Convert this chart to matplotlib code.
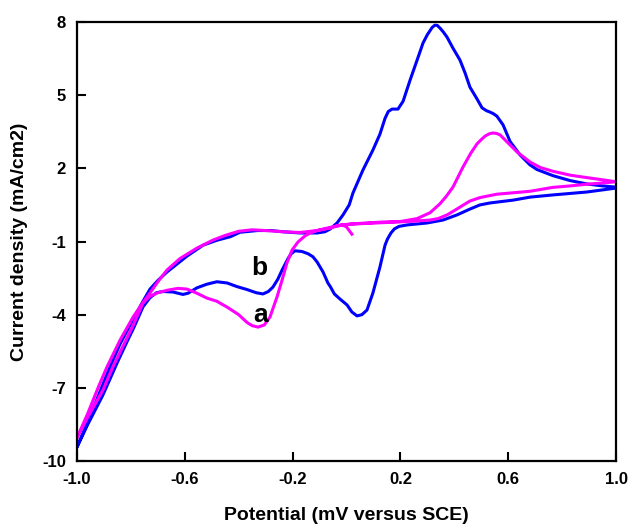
import matplotlib
matplotlib.use("Agg")
import matplotlib.pyplot as plt

plt.rcParams['font.family'] = ['Liberation Sans', 'DejaVu Sans']
plt.rcParams['font.weight'] = 'bold'
plt.rcParams['axes.unicode_minus'] = False

# curve b (blue): cathodic scan from +1.0 V back to -1.0 V, then anodic return
b_potential = [
    1.0, 0.892, 0.766, 0.681, 0.62, 0.532, 0.495, 0.458, 0.41, 0.358, 0.299,
    0.225, 0.195, 0.178, 0.165, 0.152, 0.143, 0.124, 0.098, 0.076, 0.057,
    0.039, 0.020, 0.002, -0.024, -0.045, -0.06, -0.069, -0.087, -0.109,
    -0.125, -0.143, -0.165, -0.191, -0.205, -0.217, -0.239, -0.255, -0.273,
    -0.29, -0.31, -0.335, -0.369, -0.406, -0.443, -0.481, -0.518, -0.555,
    -0.588, -0.607, -0.644, -0.681, -0.705, -0.729, -0.755, -0.792, -0.814,
    -0.85, -0.904, -0.96, -1.0,
    -0.96, -0.92, -0.878, -0.84, -0.792, -0.755, -0.729, -0.70, -0.666,
    -0.592, -0.532, -0.481, -0.43, -0.395, -0.33, -0.28, -0.236, -0.173,
    -0.109, -0.08, -0.061, -0.035, -0.013, 0.01, 0.024, 0.061, 0.098, 0.124,
    0.143, 0.155, 0.169, 0.191, 0.21, 0.236, 0.262, 0.284, 0.30, 0.318,
    0.328, 0.337, 0.347, 0.36, 0.373, 0.395, 0.421, 0.44, 0.458, 0.484,
    0.503, 0.52, 0.532, 0.545, 0.558, 0.581, 0.607, 0.644, 0.681, 0.707,
    0.766, 0.829, 0.892, 0.95, 1.0,
]
b_current = [
    1.19, 1.03, 0.91, 0.82, 0.70, 0.58, 0.50, 0.33, 0.09, -0.12, -0.24,
    -0.32, -0.38, -0.48, -0.65, -0.9, -1.15, -2.05, -3.11, -3.81, -4.0,
    -4.05, -3.89, -3.60, -3.36, -3.15, -2.85, -2.70, -2.25, -1.84,
    -1.62, -1.5, -1.41, -1.38, -1.5, -1.7, -2.17, -2.55, -2.87,
    -3.05, -3.15, -3.1, -2.97, -2.85, -2.70, -2.65, -2.75, -2.9,
    -3.12, -3.17, -3.07, -3.05, -3.1, -3.3, -3.68, -4.6, -5.1,
    -5.95, -7.3, -8.5, -9.43,
    -8.4, -7.3, -6.15, -5.2, -4.2, -3.45, -2.95, -2.6, -2.25,
    -1.6, -1.15, -0.95, -0.8, -0.62, -0.55, -0.55, -0.6, -0.65,
    -0.65, -0.6, -0.49, -0.24, 0.09, 0.5, 0.99, 1.93, 2.75, 3.4,
    4.05, 4.33, 4.43, 4.43, 4.75, 5.62, 6.44, 7.14, 7.48, 7.78,
    7.87, 7.86, 7.75, 7.58, 7.38, 6.93, 6.44, 5.91, 5.33, 4.85,
    4.48, 4.36, 4.31, 4.24, 4.14, 3.78, 3.1, 2.55, 2.14, 1.95,
    1.70, 1.50, 1.36, 1.28, 1.23,
]

# curve a (magenta): starts near 0 V, sweeps negative, then full cycle
a_potential = [
    0.02, 0.0, -0.015, -0.035, -0.072, -0.109, -0.135, -0.154, -0.18,
    -0.202, -0.221, -0.239, -0.258, -0.284, -0.305, -0.328, -0.35, -0.369,
    -0.40, -0.443, -0.481, -0.518, -0.555, -0.592, -0.625, -0.666, -0.70,
    -0.73, -0.755, -0.792, -0.825, -0.865, -0.904, -0.96, -1.0,
    -0.96, -0.92, -0.889, -0.84, -0.792, -0.755, -0.729, -0.70, -0.666,
    -0.618, -0.555, -0.495, -0.45, -0.40, -0.35, -0.30, -0.236, -0.173,
    -0.109, -0.06, -0.035, 0.013, 0.136, 0.20, 0.262, 0.31, 0.347, 0.37,
    0.395, 0.432, 0.46, 0.484, 0.50, 0.514, 0.53, 0.544, 0.557, 0.570,
    0.596, 0.633, 0.681, 0.72, 0.766, 0.83, 0.892, 0.95, 1.0,
    0.95, 0.892, 0.83, 0.766, 0.681, 0.62, 0.558, 0.495, 0.458, 0.421,
    0.39, 0.373, 0.34, 0.31, 0.247, 0.15, 0.05, -0.02,
]
a_current = [
    -0.70, -0.40, -0.33, -0.36, -0.45, -0.55, -0.65, -0.77, -1.02,
    -1.35, -1.88, -2.58, -3.28, -4.1, -4.42, -4.51, -4.45, -4.32,
    -4.0, -3.69, -3.45, -3.32, -3.12, -2.95, -2.92, -3.0, -3.1,
    -3.25, -3.52, -4.45, -5.2, -6.1, -7.1, -8.2, -9.05,
    -8.05, -6.95, -6.15, -5.04, -4.1, -3.5, -3.11, -2.65, -2.17,
    -1.7, -1.27, -0.94, -0.75, -0.58, -0.52, -0.55, -0.6, -0.63,
    -0.55, -0.45, -0.36, -0.28, -0.20, -0.18, -0.06, 0.18, 0.55, 0.85,
    1.23, 2.05, 2.6, 3.0, 3.18, 3.32, 3.42, 3.45, 3.43, 3.37,
    3.08, 2.67, 2.26, 2.03, 1.88, 1.72, 1.62, 1.53, 1.45,
    1.40, 1.35, 1.28, 1.22, 1.06, 1.0, 0.94, 0.80, 0.66, 0.41,
    0.2, 0.09, -0.06, -0.12, -0.17, -0.22, -0.27, -0.32,
]

x_ticks = [-1.0, -0.6, -0.2, 0.2, 0.6, 1.0]
y_ticks = [-10, -7, -4, -1, 2, 5, 8]

fig = plt.figure(figsize=(6.32, 5.24), dpi=100)
ax = fig.add_axes([0.1218, 0.1202, 0.8529, 0.8378])

ax.plot(b_potential, b_current, color='#0000FF', lw=2.2, solid_joinstyle='round')
ax.plot(a_potential, a_current, color='#FF00FF', lw=2.2, solid_joinstyle='round')

ax.text(-0.323, -2.1, 'b', fontsize=19, fontweight='bold', ha='center', va='center')
ax.text(-0.317, -4.0, 'a', fontsize=19, fontweight='bold', ha='center', va='center')

ax.set_xlim(-1.0, 1.0)
ax.set_ylim(-10, 8)
ax.set_xticks(x_ticks)
ax.set_xticklabels(['%.1f' % v for v in x_ticks])
ax.set_yticks(y_ticks)
ax.tick_params(direction='in', length=6.5, width=1.5, labelsize=12, pad=8)
for lab in ax.get_xticklabels() + ax.get_yticklabels():
    lab.set_fontweight('bold')
for s in ax.spines.values():
    s.set_linewidth(1.6)

ax.set_xlabel('Potential (mV versus SCE)', fontsize=14, fontweight='bold', labelpad=14)
ax.set_ylabel('Current density (mA/cm2)', fontsize=14, fontweight='bold', labelpad=10)

fig.savefig('out.png', dpi=100)
